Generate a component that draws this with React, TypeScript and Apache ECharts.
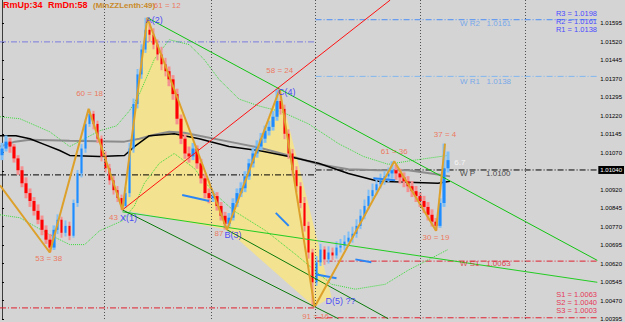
import React, { useEffect, useRef } from "react";
import * as echarts from "echarts";

// ---- candle data (one value per bar) ----
const opens = [1.01060,1.01087,1.01115,1.01095,1.01047,1.00999,1.00946,1.00906,1.00874,1.00834,
 1.00798,1.00757,1.00717,1.00685,1.00757,1.00798,1.00745,1.00773,1.00733,1.00866,
 1.00986,1.01087,1.01187,1.01228,1.01187,1.01127,1.01055,1.01007,1.00958,1.00918,
 1.00886,1.00854,1.00906,1.01087,1.01268,1.01388,1.01489,1.01569,1.01549,1.01509,
 1.01469,1.01429,1.01401,1.01368,1.01308,1.01208,1.01127,1.01067,1.01055,1.01087,
 1.01027,1.00966,1.00906,1.00886,1.00894,1.00854,1.00814,1.00781,1.00806,1.00866,
 1.00906,1.00926,1.00974,1.01027,1.01067,1.01095,1.01127,1.01159,1.01175,1.01216,
 1.01280,1.01248,1.01147,1.01067,1.00999,1.00934,1.00866,1.00773,1.00665,1.00544,
 1.00625,1.00677,1.00637,1.00665,1.00653,1.00685,1.00693,1.00709,1.00725,1.00741,
 1.00773,1.00814,1.00854,1.00894,1.00918,1.00942,1.00958,1.00974,1.00986,1.00999,
 1.00986,1.00970,1.00954,1.00934,1.00914,1.00894,1.00874,1.00850,1.00818,1.00790,
 1.00773,1.00866,1.01007];
const closes = [1.01087,1.01115,1.01095,1.01047,1.00999,1.00946,1.00906,1.00874,1.00834,1.00798,
 1.00757,1.00717,1.00685,1.00757,1.00798,1.00745,1.00773,1.00733,1.00866,1.00986,
 1.01087,1.01187,1.01228,1.01187,1.01127,1.01055,1.01007,1.00958,1.00918,1.00886,
 1.00854,1.00906,1.01087,1.01268,1.01388,1.01489,1.01569,1.01549,1.01509,1.01469,
 1.01429,1.01401,1.01368,1.01308,1.01208,1.01127,1.01067,1.01055,1.01087,1.01027,
 1.00966,1.00906,1.00886,1.00894,1.00854,1.00814,1.00781,1.00806,1.00866,1.00906,
 1.00926,1.00974,1.01027,1.01067,1.01095,1.01127,1.01159,1.01175,1.01216,1.01280,
 1.01248,1.01147,1.01067,1.00999,1.00934,1.00866,1.00773,1.00665,1.00544,1.00625,
 1.00677,1.00637,1.00665,1.00653,1.00685,1.00693,1.00709,1.00725,1.00741,1.00773,
 1.00814,1.00854,1.00894,1.00918,1.00942,1.00958,1.00974,1.00986,1.00999,1.00986,
 1.00970,1.00954,1.00934,1.00914,1.00894,1.00874,1.00850,1.00818,1.00790,1.00773,
 1.00866,1.01007,1.01040];
const highs = [1.01110,1.01140,1.01130,1.01105,1.01060,1.01015,1.00970,1.00925,1.00890,1.00860,
 1.00815,1.00775,1.00740,1.00775,1.00820,1.00810,1.00795,1.00790,1.00880,1.01000,
 1.01105,1.01205,1.01248,1.01240,1.01200,1.01140,1.01075,1.01025,1.00975,1.00935,
 1.00900,1.00930,1.01110,1.01290,1.01410,1.01510,1.01618,1.01600,1.01575,1.01530,
 1.01500,1.01455,1.01420,1.01385,1.01330,1.01225,1.01145,1.01095,1.01110,1.01100,
 1.01045,1.00985,1.00925,1.00915,1.00910,1.00870,1.00830,1.00825,1.00885,1.00925,
 1.00950,1.00995,1.01045,1.01090,1.01120,1.01150,1.01180,1.01200,1.01240,1.01329,
 1.01310,1.01265,1.01165,1.01085,1.01015,1.00950,1.00890,1.00790,1.00680,1.00650,
 1.00700,1.00690,1.00690,1.00685,1.00710,1.00720,1.00735,1.00750,1.00770,1.00800,
 1.00840,1.00880,1.00920,1.00945,1.00965,1.00985,1.00995,1.01010,1.01035,1.01020,
 1.01005,1.00990,1.00975,1.00955,1.00935,1.00910,1.00895,1.00870,1.00840,1.00805,
 1.00885,1.01107,1.01075];
const lows = [1.01040,1.01075,1.01070,1.01030,1.00980,1.00930,1.00885,1.00850,1.00815,1.00780,
 1.00735,1.00700,1.00666,1.00675,1.00740,1.00725,1.00730,1.00715,1.00725,1.00850,
 1.00970,1.01070,1.01175,1.01165,1.01110,1.01035,1.00990,1.00940,1.00900,1.00870,
 1.00838,1.00845,1.00890,1.01070,1.01250,1.01370,1.01475,1.01520,1.01490,1.01445,
 1.01405,1.01380,1.01340,1.01285,1.01185,1.01105,1.01045,1.01030,1.01040,1.01005,
 1.00945,1.00885,1.00865,1.00870,1.00835,1.00795,1.00758,1.00770,1.00795,1.00850,
 1.00890,1.00910,1.00960,1.01010,1.01050,1.01080,1.01110,1.01140,1.01160,1.01200,
 1.01225,1.01125,1.01045,1.00975,1.00910,1.00845,1.00750,1.00640,1.00444,1.00530,
 1.00610,1.00615,1.00620,1.00635,1.00640,1.00665,1.00675,1.00690,1.00705,1.00725,
 1.00760,1.00800,1.00840,1.00875,1.00900,1.00925,1.00940,1.00950,1.00965,1.00960,
 1.00945,1.00930,1.00910,1.00890,1.00870,1.00850,1.00825,1.00795,1.00770,1.00754,
 1.00765,1.00850,1.00990];

const slotCount = 150;
const lastPrice = 1.0104;
const yMin = 1.00395;
const yMax = 1.0169;
const yTicks = [1.00395,1.00470,1.00545,1.00620,1.00695,1.00770,1.00845,1.00920,1.00995,
 1.01070,1.01145,1.01220,1.01295,1.01370,1.01445,1.01520,1.01595,1.01670];

// ---- indicator values: [bar index, price] ----
const maBlack = [[-0.5,1.01139],[3.5,1.01139],[7,1.01127],[10.75,1.01103],[14.5,1.01079],[17,1.01059],
 [24.5,1.01055],[30.75,1.01059],[33.25,1.01095],[37,1.01139],[43.25,1.01147],[49.5,1.01127],
 [57,1.01095],[64.5,1.01079],[72,1.01055],[79.5,1.01027],[87,1.00986],[94.5,1.00954],
 [102,1.00950],[109.5,1.00946],[112.5,1.00954]];
const maGrey = [[-0.5,1.01095],[3.25,1.01115],[7,1.01123],[17,1.01119],[30.75,1.01115],[34.5,1.01127],
 [38.25,1.01143],[42,1.01155],[45.75,1.01151],[49.5,1.01139],[57,1.01115],[64.5,1.01091],
 [72,1.01059],[79.5,1.01023],[87,1.01003],[94.5,1.00999],[102,1.00999],[109.5,1.00982],[112.5,1.00974]];
const bandUpper = [[-0.5,1.01216],[4.5,1.01208],[12,1.01155],[17,1.01095],[20.75,1.01127],[24.5,1.01159],
 [28.75,1.01179],[32,1.01240],[34.5,1.01308],[38.25,1.01449],[42,1.01529],[47,1.01509],
 [50.75,1.01449],[54.5,1.01368],[59.5,1.01288],[64.5,1.01260],[70.25,1.01236],[77,1.01187],
 [84.5,1.01107],[90.75,1.01055],[97,1.01023],[103.25,1.01039],[112,1.01059]];
const bandLower = [[-0.5,1.00818],[4.5,1.00806],[12,1.00737],[17,1.00697],[20.75,1.00697],[24.5,1.00753],
 [30.25,1.00794],[33.25,1.00854],[35.75,1.00946],[39.5,1.01027],[43.25,1.01067],[48.25,1.01007],
 [53.25,1.00906],[58.25,1.00834],[66.25,1.00753],[73.75,1.00657],[82.75,1.00536],[88.75,1.00516],
 [96.25,1.00536],[102,1.00593],[112,1.00677]];

const zigzag = [[-0.5,1.00938],[12,1.00665],[21.75,1.01248],[30.25,1.00838],[36.5,1.01618],
 [56.5,1.00757],[69.75,1.01328],[78.5,1.00444],[98.5,1.01035],[109,1.00753],[111.25,1.01107]];

const patternPolys = [
  [[30.25,1.00838],[36.5,1.01618],[56.5,1.00757]],
  [[56.5,1.00757],[69.75,1.01328],[82.75,1.00484],[78.5,1.00444]],
];

const trendAC = [[36.5,1.01618],[149.5,1.00633]];
const trendXB = [[30.25,1.00830],[149.5,1.00544]];
const trendXD = [[30.25,1.00838],[84.5,1.00396]];
const trendB = [[56.5,1.00757],[97,1.00396]];
const trendXC = [[30.25,1.00838],[97.5,1.0169]];
const blueSegs = [
  [[45.25,1.00898],[52,1.00874]],
  [[68.75,1.00826],[72,1.00773]],
  [[79,1.00576],[84,1.00560]],
  [[88.75,1.00637],[92.75,1.00625]],
  [[93.25,1.00966],[98.75,1.00958]],
];

const periodLines = [25.75, 52.5, 78.75, 105, 131.5];
const weekStart = 78.75;
const chartStart = -0.5;
const chartEnd = 149.5;
const curLevels = [1.0161, 1.0138, 1.0100, 1.0063, 1.0040];
const curLevelColors = ["#4d8ff5", "#80b6f0", "#000000", "#e02030", "#e02030"];
const prevLevels = [1.0152, 1.0098, 1.0044];
const prevLevelColors = ["#7c7ce0", "#000000", "#e02030"];

const annotText = ["61 = 12","A(2)","60 = 18","58 = 24","C(4)","43","X(1)","53 = 38","87","B(3)",
 "D(5) ??","91 = 16","61 = 36","30 = 19","37 = 4","6.7"];
const annotX = [41.5,38.25,22,69.75,71.5,28,31.75,11.75,54.5,58,85,78.75,98.5,109,111.25,115];
const annotY = [1.01666,1.01610,1.01312,1.01405,1.01316,1.00806,1.00806,1.00641,1.00741,1.00737,
 1.00470,1.00404,1.01075,1.00725,1.01143,1.01031];
const annotKind = [0,1,0,0,1,0,1,0,0,1,1,0,0,0,0,2];

const pivotText = ["W R2   1.0161","W R1   1.0138","W P     1.0100","W S1   1.0063"];
const pivotTextY = [1.01594, 1.01360, 1.00986, 1.00621];
const pivotTextColor = ["#5d9cf0", "#5d9cf0", "#1a1a1a", "#e01c2c"];
const pivotTextX = 115;

const resText = ["R3 = 1.0198", "R2 = 1.0161", "R1 = 1.0138"];
const supText = ["S1 = 1.0063", "S2 = 1.0040", "S3 = 1.0003"];

const FONT = "Liberation Sans, Arial, sans-serif";

function lineSeries(data: number[][], color: string, width: number, type: any, z: number) {
  return {
    type: "line",
    xAxisIndex: 1,
    yAxisIndex: 0,
    data,
    symbol: "none",
    showSymbol: false,
    silent: true,
    z,
    lineStyle: { color, width, type },
  };
}

export default function App() {
  const ref = useRef<HTMLDivElement>(null);
  useEffect(() => {
    if (!ref.current) return;
    const chart = echarts.init(ref.current, undefined, { renderer: "svg" });
    const cats = Array.from({ length: slotCount }, (_, i) => String(i));
    const bodies = closes.map((c, i) => [opens[i], c, Math.min(opens[i], c), Math.max(opens[i], c)]);
    const ranges = closes.map((c, i) =>
      c >= opens[i] ? [lows[i], highs[i], lows[i], highs[i]] : [highs[i], lows[i], lows[i], highs[i]]
    );
    const annColors = ["#f2603e", "#2424ff", "#ffffff"];
    const series: any[] = [];

    series.push({
      type: "custom",
      xAxisIndex: 1,
      yAxisIndex: 0,
      silent: true,
      z: 1,
      data: patternPolys.map((p) => p[0]),
      renderItem: (params: any, api: any) => {
        const poly = patternPolys[params.dataIndex];
        return {
          type: "polygon",
          shape: { points: poly.map((pt) => api.coord(pt)) },
          style: { fill: "#f3e28f", stroke: "none" },
        };
      },
    });

    prevLevels.forEach((lv, i) =>
      series.push(lineSeries([[chartStart, lv], [weekStart, lv]], prevLevelColors[i], 1, [6, 2, 1, 2], 2))
    );
    curLevels.forEach((lv, i) =>
      series.push(lineSeries([[weekStart, lv], [chartEnd, lv]], curLevelColors[i], 1, [6, 2, 1, 2], 2))
    );

    series.push(lineSeries(bandUpper, "#3cdc3c", 1, "dotted", 2));
    series.push(lineSeries(bandLower, "#3cdc3c", 1, "dotted", 2));
    series.push(lineSeries(maGrey, "#8c8c8c", 2, "solid", 2));
    series.push(lineSeries(maBlack, "#000000", 1.5, "solid", 2));

    series.push({
      type: "candlestick",
      xAxisIndex: 0,
      yAxisIndex: 0,
      data: ranges,
      barWidth: 3,
      silent: true,
      z: 3,
      itemStyle: { color: "#7fbff6", color0: "#f59090", borderWidth: 0, borderColor: "#7fbff6", borderColor0: "#f59090" },
    });
    series.push({
      type: "candlestick",
      xAxisIndex: 0,
      yAxisIndex: 0,
      data: bodies,
      barWidth: 3,
      silent: true,
      z: 3,
      itemStyle: { color: "#1e8cff", color0: "#ff0000", borderWidth: 0, borderColor: "#1e8cff", borderColor0: "#ff0000" },
    });

    series.push(lineSeries(trendXB, "#22cc22", 1, "solid", 4));
    series.push(lineSeries(trendAC, "#11c411", 1, "solid", 4));
    series.push(lineSeries(trendXD, "#0a7a0a", 1, "solid", 4));
    series.push(lineSeries(trendB, "#0a7a0a", 1, "solid", 4));
    series.push(lineSeries(trendXC, "#ff1010", 1, "solid", 4));
    blueSegs.forEach((s) => series.push(lineSeries(s, "#2b86f5", 2, "solid", 4)));
    series.push(lineSeries(zigzag, "#dda12b", 2, "solid", 4));

    series.push({
      type: "scatter",
      xAxisIndex: 1,
      yAxisIndex: 0,
      symbolSize: 1,
      silent: true,
      z: 6,
      itemStyle: { color: "rgba(0,0,0,0)" },
      data: annotText.map((t, i) => ({
        value: [annotX[i], annotY[i]],
        label: {
          show: true,
          position: "inside",
          formatter: t,
          color: annColors[annotKind[i]],
          fontSize: annotKind[i] === 1 ? 9 : 8,
          fontFamily: FONT,
        },
      })),
    });
    series.push({
      type: "scatter",
      xAxisIndex: 1,
      yAxisIndex: 0,
      symbolSize: 1,
      silent: true,
      z: 6,
      itemStyle: { color: "rgba(0,0,0,0)" },
      data: pivotText.map((t, i) => ({
        value: [pivotTextX, pivotTextY[i]],
        label: {
          show: true,
          position: "inside",
          align: "left",
          formatter: t,
          color: pivotTextColor[i],
          fontSize: 8,
          fontFamily: FONT,
        },
      })),
    });

    series.push({
      type: "line",
      xAxisIndex: 1,
      yAxisIndex: 0,
      data: [],
      markLine: {
        symbol: "none",
        silent: true,
        label: { show: false },
        lineStyle: { color: "#505050", type: [1, 2], width: 1 },
        data: periodLines.map((x) => ({ xAxis: x })),
      },
    });
    series.push({
      type: "line",
      xAxisIndex: 1,
      yAxisIndex: 0,
      data: [],
      z: 8,
      markLine: {
        symbol: "none",
        silent: true,
        lineStyle: { color: "rgba(0,0,0,0)", width: 0 },
        data: [{ yAxis: lastPrice }],
        label: {
          show: true,
          position: "end",
          distance: 1,
          formatter: () => lastPrice.toFixed(5),
          backgroundColor: "#000000",
          color: "#ffffff",
          fontSize: 6,
          fontFamily: FONT,
          padding: [1, 2, 1, 2],
        },
      },
    });

    const graphic: any[] = [
      { type: "text", x: 3, y: 5, style: { text: "RmUp:34", fill: "#ff0000", fontSize: 9, fontWeight: "bold", fontFamily: FONT, verticalAlign: "middle", textVerticalAlign: "middle" } },
      { type: "text", x: 48, y: 5, style: { text: "RmDn:58", fill: "#ff0000", fontSize: 9, fontWeight: "bold", fontFamily: FONT, verticalAlign: "middle", textVerticalAlign: "middle" } },
      { type: "text", x: 93, y: 5, style: { text: "(MinZZLenth:49)", fill: "#c98a2a", fontSize: 8, fontWeight: "bold", fontFamily: FONT, verticalAlign: "middle", textVerticalAlign: "middle" } },
    ];
    resText.forEach((t, i) =>
      graphic.push({ type: "text", x: 597, y: 13 + i * 8, z: 10, style: { text: t, fill: "#4b4bff", fontSize: 7.5, fontFamily: FONT, align: "right", textAlign: "right", verticalAlign: "middle", textVerticalAlign: "middle" } })
    );
    supText.forEach((t, i) =>
      graphic.push({ type: "text", x: 597, y: 294 + i * 8, z: 10, style: { text: t, fill: "#e63858", fontSize: 7.5, fontFamily: FONT, align: "right", textAlign: "right", verticalAlign: "middle", textVerticalAlign: "middle" } })
    );

    chart.setOption({
      animation: false,
      backgroundColor: "#d4d4d4",
      grid: { left: 0, right: 26, top: 0, bottom: 0, containLabel: false },
      xAxis: [
        { type: "category", data: cats, show: false, boundaryGap: true },
        { type: "value", min: chartStart, max: chartEnd, show: false },
      ],
      yAxis: [
        {
          type: "value",
          position: "right",
          min: yMin,
          max: yMax,
          scale: true,
          splitLine: { show: false },
          axisLine: { show: true, lineStyle: { color: "#3c3c3c", width: 1 } },
          axisTick: { show: true, customValues: yTicks, length: 2, lineStyle: { color: "#000" } },
          axisLabel: {
            customValues: yTicks,
            formatter: (v: number) => v.toFixed(5),
            fontSize: 6,
            color: "#000",
            margin: 3,
            fontFamily: FONT,
            showMaxLabel: false,
          },
        },
      ],
      graphic,
      series,
    });
    return () => chart.dispose();
  }, []);
  return (
    <div
      ref={ref}
      style={{ position: "fixed", left: 0, top: 0, width: 625, height: 322, background: "#d4d4d4" }}
    />
  );
}
